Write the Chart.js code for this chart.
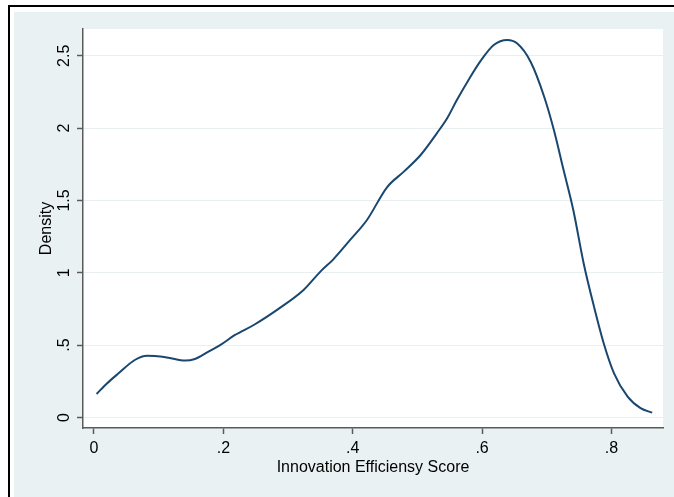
<!DOCTYPE html>
<html>
<head>
<meta charset="utf-8">
<script src="https://cdn.jsdelivr.net/npm/chart.js@4.4.1/dist/chart.umd.min.js"></script>
<style>
  html, body { margin: 0; padding: 0; background: #ffffff; }
  #wrap { position: absolute; left: 0; top: 0; width: 674px; height: 497px; }
</style>
</head>
<body>
<div id="wrap"><canvas id="chart" width="674" height="497"></canvas></div>
<script>
// Kernel density estimate of the innovation efficiency score
const scoreX = [0.004, 0.020, 0.038, 0.063, 0.082, 0.094, 0.115, 0.141, 0.156, 0.177, 0.195,
  0.218, 0.247, 0.288, 0.324, 0.350, 0.370, 0.396, 0.422, 0.453, 0.479, 0.505, 0.530,
  0.546, 0.561, 0.580, 0.598, 0.618, 0.639, 0.654, 0.675, 0.696, 0.711, 0.726, 0.741,
  0.757, 0.773, 0.788, 0.804, 0.825, 0.845, 0.863];
const densityY = [0.162, 0.235, 0.305, 0.397, 0.427, 0.425, 0.413, 0.393, 0.404, 0.455, 0.500,
  0.570, 0.639, 0.759, 0.881, 1.008, 1.093, 1.227, 1.365, 1.591, 1.699, 1.814, 1.964,
  2.068, 2.194, 2.340, 2.466, 2.574, 2.609, 2.586, 2.459, 2.217, 1.987, 1.710, 1.434,
  1.066, 0.766, 0.513, 0.305, 0.144, 0.064, 0.033];

const xTickValues = [0, 0.2, 0.4, 0.6, 0.8];
const xTickLabels = ['0', '.2', '.4', '.6', '.8'];
const yTickValues = [0, 0.5, 1, 1.5, 2, 2.5];
const yTickLabels = ['0', '.5', '1', '1.5', '2', '2.5'];

const points = scoreX.map((x, i) => ({ x: x, y: densityY[i] }));

const FONT = { family: '"Liberation Sans", Arial, sans-serif', size: 16 };
const AXIS_GREY = '#5a5a5a';

// Page background, frame lines and the white plot region
const backdrop = {
  id: 'backdrop',
  beforeDraw(chart) {
    const { ctx, chartArea: a, width, height } = chart;
    ctx.save();
    ctx.fillStyle = '#ffffff';
    ctx.fillRect(0, 0, width, height);
    ctx.fillStyle = '#eaf1f3';
    ctx.fillRect(14, 12, width - 14, height - 12);
    ctx.fillStyle = '#000000';
    ctx.fillRect(8, 5, width - 8, 2);
    ctx.fillRect(8, 5, 2, height - 5);
    ctx.fillStyle = '#ffffff';
    ctx.fillRect(a.left, a.top, a.right - a.left, a.bottom - a.top);
    ctx.restore();
  }
};

new Chart(document.getElementById('chart'), {
  type: 'line',
  data: {
    datasets: [{
      data: points,
      borderColor: '#1a476f',
      borderWidth: 2,
      pointRadius: 0,
      tension: 0.4,
      cubicInterpolationMode: 'monotone',
      fill: false
    }]
  },
  options: {
    responsive: false,
    animation: false,
    events: [],
    layout: { padding: { left: 37, top: 29, right: 11, bottom: 20 } },
    plugins: { legend: { display: false }, tooltip: { enabled: false } },
    scales: {
      x: {
        type: 'linear',
        min: -0.017,
        max: 0.8797,
        afterFit(scale) { scale.height = 49; },
        afterBuildTicks(scale) { scale.ticks = xTickValues.map(v => ({ value: v })); },
        border: { display: true, color: AXIS_GREY, width: 1.5 },
        grid: { drawOnChartArea: false, drawTicks: true, tickLength: 6, tickColor: AXIS_GREY, tickWidth: 1.5 },
        ticks: {
          color: '#000000', font: FONT, padding: 5, maxRotation: 0, autoSkip: false,
          callback: (v) => xTickLabels[xTickValues.indexOf(v)] ?? ''
        },
        title: { display: true, text: 'Innovation Efficiensy Score', color: '#000000', font: FONT, padding: { top: 0, bottom: 0 } }
      },
      y: {
        type: 'linear',
        min: -0.073,
        max: 2.685,
        afterFit(scale) { scale.width = 46; },
        afterBuildTicks(scale) { scale.ticks = yTickValues.map(v => ({ value: v })); },
        border: { display: true, color: AXIS_GREY, width: 1.5 },
        grid: { drawOnChartArea: true, color: '#e8eff0', lineWidth: 1, drawTicks: true, tickLength: 6, tickColor: AXIS_GREY, tickWidth: 1.5 },
        ticks: {
          color: '#000000', font: FONT, padding: 1, minRotation: 90, maxRotation: 90, autoSkip: false,
          crossAlign: 'center',
          callback: (v) => yTickLabels[yTickValues.indexOf(v)] ?? ''
        },
        title: { display: true, text: 'Density', color: '#000000', font: FONT, padding: { top: 0, bottom: 0 } }
      }
    }
  },
  plugins: [backdrop]
});
</script>
</body>
</html>
